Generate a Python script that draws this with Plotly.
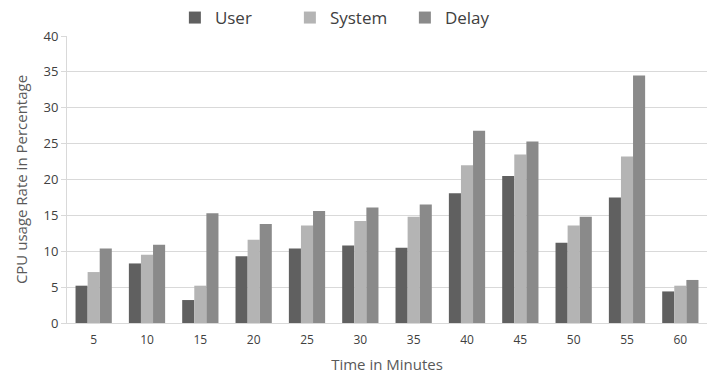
import plotly.graph_objects as go

minutes = ["5", "10", "15", "20", "25", "30", "35", "40", "45", "50", "55", "60"]
user = [5.2, 8.3, 3.2, 9.3, 10.4, 10.8, 10.5, 18.1, 20.5, 11.2, 17.5, 4.4]
system = [7.1, 9.5, 5.2, 11.6, 13.6, 14.2, 14.8, 22.0, 23.5, 13.6, 23.2, 5.2]
delay = [10.4, 10.9, 15.3, 13.8, 15.6, 16.1, 16.5, 26.8, 25.3, 14.8, 34.5, 6.0]

font_family = "Open Sans"
fig = go.Figure()
fig.add_bar(x=minutes, y=user, name="User", marker=dict(color="#606060", line=dict(width=0)))
fig.add_bar(x=minutes, y=system, name="System", marker=dict(color="#b4b4b4", line=dict(width=0)))
fig.add_bar(x=minutes, y=delay, name="Delay", marker=dict(color="#8a8a8a", line=dict(width=0)))

fig.update_layout(
    width=708, height=375,
    margin=dict(l=67, r=1, t=36, b=52, autoexpand=False),
    paper_bgcolor="white", plot_bgcolor="white",
    barmode="group", bargap=0.32, bargroupgap=0,
    font=dict(family=font_family, color="#595959"),
    legend=dict(orientation="h", xref="container", x=0.247, xanchor="left",
                yref="container", y=1.0, yanchor="top",
                font=dict(size=17, color="#404040"), entrywidth=70,
                itemwidth=30, tracegroupgap=0),
    xaxis=dict(type="category", showgrid=False, showline=True, linecolor="#d9d9d9",
               linewidth=1, ticks="outside", ticklen=6, tickcolor="rgba(0,0,0,0)",
               tickfont=dict(size=12, color="#404040"), automargin=False,
               title=dict(text="Time in Minutes", font=dict(size=15, color="#595959"), standoff=12)),
    yaxis=dict(range=[0, 40], dtick=5, showgrid=True, gridcolor="#d9d9d9", gridwidth=1,
               showline=True, linecolor="#d9d9d9", linewidth=1, zeroline=False,
               ticks="outside", ticklen=5, tickcolor="#d9d9d9",
               tickfont=dict(size=13, color="#404040"), automargin=False,
               title=dict(text="CPU usage Rate in Percentage", font=dict(size=15, color="#595959"), standoff=12)),
)
fig.write_html("out.html", config={"displayModeBar": False},
               post_script="document.body.style.margin='0';document.body.style.overflow='hidden';")
